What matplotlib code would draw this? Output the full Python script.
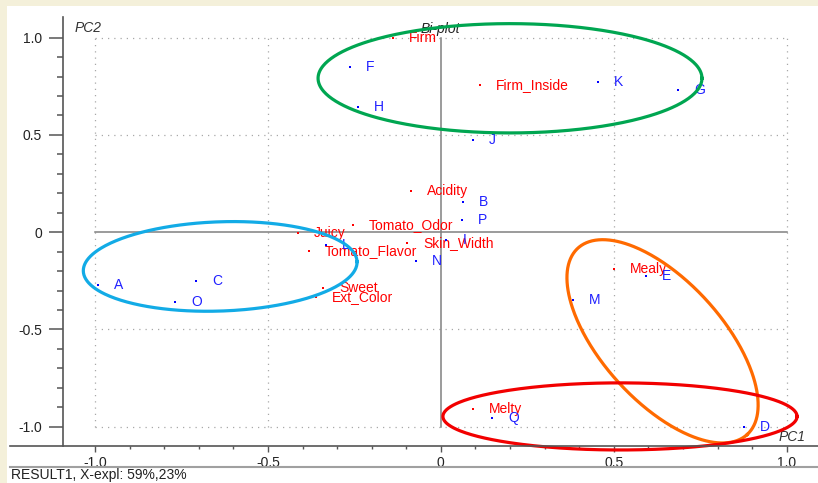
import numpy as np
import matplotlib
matplotlib.use("Agg")
import matplotlib.pyplot as plt
from matplotlib.lines import Line2D
from matplotlib.patches import Rectangle
from matplotlib.ticker import FixedLocator

plt.rcParams['font.family'] = ['Liberation Sans', 'DejaVu Sans']

# variables (red)
var_names = ['Firm', 'Firm_Inside', 'Acidity', 'Tomato_Odor', 'Juicy', 'Tomato_Flavor',
             'Skin_Width', 'Sweet', 'Ext_Color', 'Mealy', 'Melty']
var_pc1 = [-0.138, 0.114, -0.086, -0.254, -0.413, -0.381, -0.097, -0.340, -0.361, 0.501, 0.093]
var_pc2 = [0.999, 0.757, 0.212, 0.038, -0.004, -0.096, -0.055, -0.286, -0.333, -0.189, -0.908]

# objects (blue)
obj_names = ['A', 'B', 'C', 'D', 'E', 'F', 'G', 'H', 'I', 'J', 'K', 'L', 'M', 'N', 'O', 'P', 'Q']
obj_pc1 = [-0.990, 0.064, -0.708, 0.877, 0.594, -0.262, 0.686, -0.239, 0.016, 0.093,
           0.455, -0.332, 0.383, -0.071, -0.768, 0.062, 0.148]
obj_pc2 = [-0.271, 0.156, -0.250, -1.001, -0.225, 0.850, 0.732, 0.644, -0.039, 0.475,
           0.773, -0.065, -0.348, -0.148, -0.358, 0.063, -0.955]

# group ellipses: centre, semi axes (in PC1 units), angle, colour
ell_cx = [0.200, -0.638, 0.641, 0.518]
ell_cy = [0.791, -0.176, -0.561, -0.947]
ell_a = [0.555, 0.396, 0.364, 0.512]
ell_b = [0.158, 0.129, 0.174, 0.097]
ell_ang = [0, 2, -47.8, 0]
ell_col = ['#00A651', '#12ABE6', '#FF6A00', '#F20000']

ticks = [-1.0, -0.5, 0, 0.5, 1.0]
tick_labels = ['-1.0', '-0.5', '0', '0.5', '1.0']

fig = plt.figure(figsize=(8.18, 4.83), dpi=100, facecolor='#F4F0DA')
fig.patches.append(Rectangle((7 / 818, 0), 1, 1 - 6 / 483, transform=fig.transFigure,
                             facecolor='white', edgecolor='none', zorder=-10))

ax = fig.add_axes([63 / 818, 37 / 483, 755 / 818, 429 / 483])
ax.set_zorder(1)
ax.set_facecolor('none')
ax.set_xlim(-1.0925, 1.0905)
ax.set_ylim(-1.099, 1.106)

for s in ['top', 'right', 'bottom']:
    ax.spines[s].set_visible(False)
ax.spines['left'].set_color('#555555')
ax.spines['left'].set_linewidth(1.2)

ax.set_xticks(ticks)
ax.set_xticklabels(tick_labels)
ax.set_yticks(ticks)
ax.set_yticklabels(tick_labels)
ax.xaxis.set_minor_locator(FixedLocator(np.arange(-1.0, 1.01, 0.1)))
ax.yaxis.set_minor_locator(FixedLocator(np.arange(-1.0, 1.01, 0.1)))
ax.tick_params(axis='y', which='major', length=10, width=1.1, color='#555555',
               pad=5, labelsize=10, labelcolor='#222222')
ax.tick_params(axis='y', which='minor', length=4.3, width=1.1, color='#555555')
ax.tick_params(axis='x', which='major', length=4.5, width=1.0, color='#555555',
               pad=2.5, labelsize=10, labelcolor='#222222')
ax.tick_params(axis='x', which='minor', length=2.2, width=1.0, color='#555555')

# dotted grid inside the unit box
for v in [-1.0, -0.5, 0.5, 1.0]:
    ax.plot([-1, 1], [v, v], color='#A8A8A8', lw=0.9, ls=(0, (1, 4)), zorder=1)
    ax.plot([v, v], [-1, 1], color='#A8A8A8', lw=0.9, ls=(0, (1, 4)), zorder=1)
ax.plot([-1, 1], [0, 0], color='#808080', lw=1.1, zorder=1)
ax.plot([0, 0], [-1, 1], color='#808080', lw=1.1, zorder=1)

# points and labels
ax.plot(var_pc1, var_pc2, ls='none', marker='s', ms=1.6, mew=0, color='red', zorder=3)
for n, x, y in zip(var_names, var_pc1, var_pc2):
    ax.annotate(n, (x, y), xytext=(16, 0), textcoords='offset pixels', va='center',
                ha='left', color='red', fontsize=10, zorder=3)
ax.plot(obj_pc1, obj_pc2, ls='none', marker='s', ms=1.6, mew=0, color='blue', zorder=3)
for n, x, y in zip(obj_names, obj_pc1, obj_pc2):
    ax.annotate(n, (x, y), xytext=(16, 0), textcoords='offset pixels', va='center',
                ha='left', color='#2020FF', fontsize=10, zorder=3)

ax.text(-1.058, 1.05, 'PC2', style='italic', fontsize=10, color='#333333', va='center')
ax.text(-0.06, 1.045, 'Bi-plot', style='italic', fontsize=10, color='#222222', va='center')
ax.text(0.976, -1.052, 'PC1', style='italic', fontsize=10, color='#333333', va='center')

# ellipses, drawn in screen-proportional units
p0 = ax.transData.transform((0, 0))
p1 = ax.transData.transform((1, 1))
k = (p1[1] - p0[1]) / (p1[0] - p0[0])
t = np.linspace(0, 2 * np.pi, 400)
for cx, cy, a, b, ang, c in zip(ell_cx, ell_cy, ell_a, ell_b, ell_ang, ell_col):
    th = np.radians(ang)
    dx = a * np.cos(t) * np.cos(th) - b * np.sin(t) * np.sin(th)
    dy = a * np.cos(t) * np.sin(th) + b * np.sin(t) * np.cos(th)
    ax.plot(cx + dx, cy + dy / k, color=c, lw=2.3, zorder=5, clip_on=False)

# bottom axis line and footer
fig.add_artist(Line2D([10 / 818, 1], [37 / 483, 37 / 483], color='#555555', lw=1.2))
fig.add_artist(Line2D([10 / 818, 1], [16.5 / 483, 16.5 / 483], color='#A0A0A0', lw=1.5))
fig.text(11 / 818, 8 / 483, 'RESULT1, X-expl: 59%,23%', fontsize=10, color='#222222',
         va='center', ha='left')

fig.savefig('out.png', dpi=100, facecolor=fig.get_facecolor())
